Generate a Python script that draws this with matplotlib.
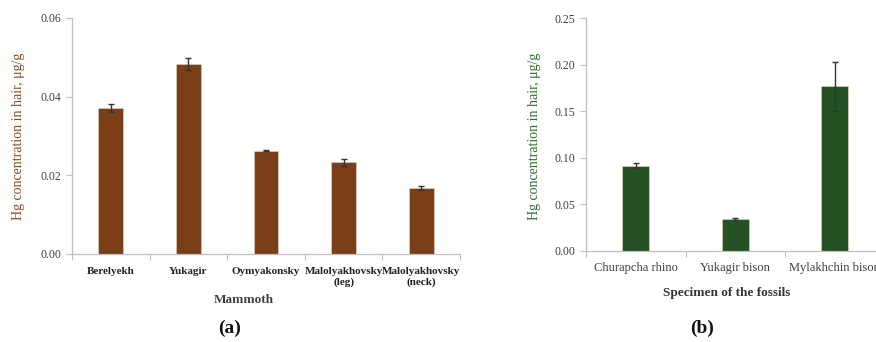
import matplotlib
matplotlib.use("Agg")
import matplotlib.pyplot as plt
import numpy as np

# Mammoth hair samples
mammoth_labels = ["Berelyekh", "Yukagir", "Oymyakonsky", "Malolyakhovsky\n(leg)", "Malolyakhovsky\n(neck)"]
mammoth_hg = [0.0372, 0.0484, 0.0263, 0.0233, 0.0167]
mammoth_err = [0.0010, 0.0015, 0.0002, 0.0008, 0.0005]
mammoth_yticks = [0.00, 0.02, 0.04, 0.06]

# Other fossil specimens
fossil_labels = ["Churapcha rhino", "Yukagir bison", "Mylakhchin bison"]
fossil_hg = [0.0915, 0.0343, 0.1768]
fossil_err = [0.0027, 0.0010, 0.0265]
fossil_yticks = [0.00, 0.05, 0.10, 0.15, 0.20, 0.25]

plt.rcParams["font.family"] = ["Liberation Serif", "DejaVu Serif"]

BROWN = "#7b3f17"
GREEN = "#245224"
SPINE = "#bfbfbf"
TEXT = "#404040"

fig = plt.figure(figsize=(8.76, 3.42), dpi=100)
ax1 = fig.add_axes([72 / 876, 88 / 342, 388 / 876, 236 / 342])
ax2 = fig.add_axes([586 / 876, 91.3 / 342, 298.5 / 876, 232.4 / 342])


def style_axis(ax, labels, values, errs, yticks, color, bar_width, bold_ticks, ylabel_color):
    x = np.arange(len(labels))
    ax.bar(x, values, width=bar_width, color=color, edgecolor="#e8d8c8", linewidth=0.4,
           yerr=errs, error_kw=dict(ecolor="#333333", elinewidth=1.0, capsize=2.5, capthick=1.0))
    ax.set_xlim(-0.5, len(labels) - 0.5)
    ax.set_ylim(yticks[0], yticks[-1])
    ax.set_yticks(yticks)
    ax.set_yticklabels([f"{t:.2f}" for t in yticks], color=TEXT, fontsize=8.5)
    ax.set_xticks(x)
    ax.set_xticklabels(labels, fontsize=8 if bold_ticks else 9,
                       fontweight="bold" if bold_ticks else "normal",
                       color="#222222" if bold_ticks else TEXT, linespacing=1.25)
    ax.tick_params(axis="x", which="major", length=0, pad=9 if bold_ticks else 8)
    ax.set_xticks(np.arange(len(labels) + 1) - 0.5, minor=True)
    ax.tick_params(axis="x", which="minor", length=4, color=SPINE, width=0.8)
    ax.tick_params(axis="y", length=4, color=SPINE, width=0.8, pad=4)
    for side in ("top", "right"):
        ax.spines[side].set_visible(False)
    for side in ("left", "bottom"):
        ax.spines[side].set_color(SPINE)
        ax.spines[side].set_linewidth(0.9)
    ax.set_ylabel("Hg concentration in hair, \u03bcg/g", color=ylabel_color, fontsize=10)


style_axis(ax1, mammoth_labels, mammoth_hg, mammoth_err, mammoth_yticks, BROWN, 0.32, True, "#8b4a1c")
style_axis(ax2, fossil_labels, fossil_hg, fossil_err, fossil_yticks, GREEN, 0.27, False, "#2e6b2e")

ax1.set_xlabel("Mammoth", fontsize=9.5, color=TEXT, fontweight="bold")
ax2.set_xlabel("Specimen of the fossils", fontsize=9.5, color="#333333", fontweight="bold")
ax1.xaxis.set_label_coords((244 - 72) / 388, -(300 - 254) / 236)
ax2.xaxis.set_label_coords((727 - 586) / 298.5, -(293 - 250.7) / 232.4)
ax1.xaxis.label.set_va("center")
ax2.xaxis.label.set_va("center")
ax1.yaxis.set_label_coords(-0.12, 0.5)
ax2.yaxis.set_label_coords(-0.15, 0.49)

fig.text(230 / 876, 1 - 328 / 342, "(a)", ha="center", va="center", fontsize=14,
         color="#111111", fontweight="bold")
fig.text(702 / 876, 1 - 328 / 342, "(b)", ha="center", va="center", fontsize=14,
         color="#111111", fontweight="bold")

fig.savefig("out.png", dpi=100)
